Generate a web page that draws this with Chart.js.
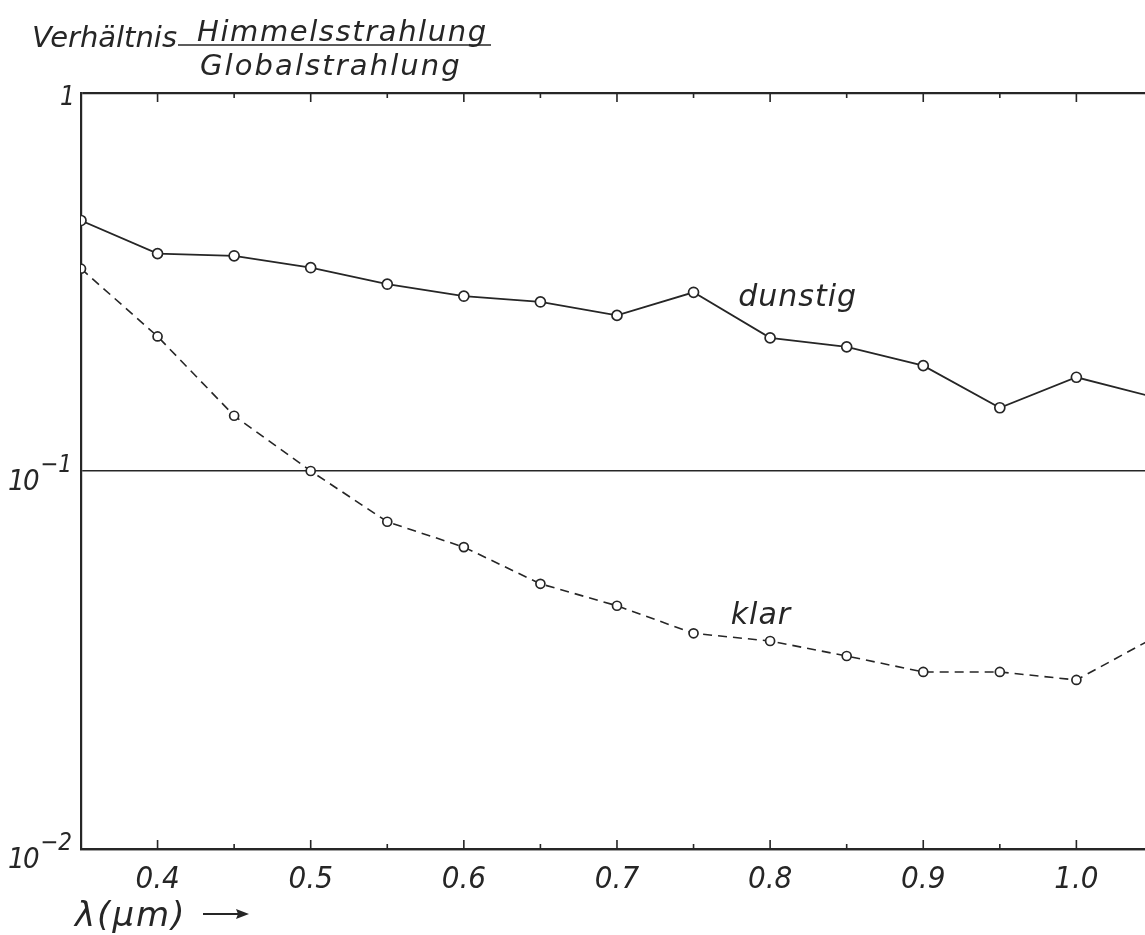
<!DOCTYPE html>
<html>
<head>
<meta charset="utf-8">
<script src="https://cdn.jsdelivr.net/npm/chart.js@4/dist/chart.umd.min.js"></script>
<style>
  html, body { margin: 0; padding: 0; background: #ffffff; overflow: hidden; width: 1145px; height: 935px; }
  canvas { display: block; }
</style>
</head>
<body>
<canvas id="c" width="1152" height="935"></canvas>
<script>
// Wavelength (µm) and ratio of diffuse sky radiation to global radiation
const wavelengths = [0.35, 0.40, 0.45, 0.50, 0.55, 0.60, 0.65, 0.70, 0.75, 0.80, 0.85, 0.90, 0.95, 1.00, 1.05];
const ratioHazy  = [0.46, 0.376, 0.371, 0.345, 0.312, 0.290, 0.280, 0.258, 0.297, 0.225, 0.213, 0.190, 0.147, 0.177, 0.157];
const ratioClear = [0.343, 0.227, 0.140, 0.100, 0.0734, 0.0629, 0.0503, 0.0440, 0.0372, 0.0355, 0.0324, 0.0294, 0.0294, 0.0280, 0.0361];

// Axis ticks
const xTickValues = [0.35, 0.40, 0.45, 0.50, 0.55, 0.60, 0.65, 0.70, 0.75, 0.80, 0.85, 0.90, 0.95, 1.00, 1.05];
const xTickLabels = ['', '0.4', '', '0.5', '', '0.6', '', '0.7', '', '0.8', '', '0.9', '', '1.0', ''];
const yTickValues = [0.01, 0.1, 1];
const yTickLabels = [['10', '\u22122'], ['10', '\u22121'], ['1', '']];

const seriesNames = ['dunstig', 'klar'];

const INK = '#262626';
const FONT = "'DejaVu Sans', 'Liberation Sans', sans-serif";
const NUM_FONT = "'DejaVu Sans Condensed', 'Liberation Sans Narrow', 'DejaVu Sans', sans-serif";
const font = (size, fam = FONT) => `italic 300 ${size}px ${fam}`;

const toPoints = (ys) => wavelengths.map((x, i) => ({ x, y: ys[i] }));

function spaced(ctx, text, x, y, spacing) {
  ctx.letterSpacing = spacing + 'px';
  ctx.fillText(text, x, y);
  ctx.letterSpacing = '0px';
}

// Frame ticks, y labels, titles and curve names
const decorations = {
  id: 'decorations',
  afterDraw(chart) {
    const { ctx, chartArea: a, scales: { x, y } } = chart;
    ctx.save();
    ctx.strokeStyle = INK;
    ctx.fillStyle = INK;

    // inward tick marks along the top and bottom edges
    ctx.lineWidth = 1.6;
    xTickValues.forEach((v) => {
      const px = x.getPixelForValue(v);
      if (px <= a.left + 1 || px >= a.right) return;
      const major = Math.abs(v * 10 - Math.round(v * 10)) < 1e-6;
      const len = major ? 9 : 5;
      ctx.beginPath();
      ctx.moveTo(px, a.bottom); ctx.lineTo(px, a.bottom - len);
      ctx.moveTo(px, a.top); ctx.lineTo(px, a.top + len);
      ctx.stroke();
    });

    // y labels with exponents
    yTickValues.forEach((v, i) => {
      const py = y.getPixelForValue(v);
      const [base, exp] = yTickLabels[i];
      ctx.textBaseline = 'alphabetic';
      ctx.textAlign = 'right';
      if (!exp) {
        ctx.font = font(26, NUM_FONT);
        ctx.fillText(base, a.left - 6, py + 12);
        return;
      }
      ctx.font = font(24, NUM_FONT);
      ctx.fillText(exp, a.left - 9, py + 1);
      const ew = ctx.measureText(exp).width;
      ctx.font = font(29, NUM_FONT);
      spaced(ctx, base, a.left - 9 - ew - 2, py + 19, -1.5);
    });

    // y axis title as a fraction
    ctx.textAlign = 'left';
    ctx.textBaseline = 'alphabetic';
    ctx.font = font(29);
    ctx.fillText('Verhältnis', 32, 47);
    spaced(ctx, 'Himmelsstrahlung', 197, 41, 1.6);
    spaced(ctx, 'Globalstrahlung', 200, 75, 2.1);
    ctx.lineWidth = 1.6;
    ctx.beginPath();
    ctx.moveTo(178, 45); ctx.lineTo(491, 45);
    ctx.stroke();

    // x axis title with arrow
    ctx.font = font(34);
    spaced(ctx, '\u03bb(\u00b5m)', 75, 926, 2);
    ctx.lineWidth = 1.8;
    ctx.beginPath();
    ctx.moveTo(203, 914); ctx.lineTo(240, 914);
    ctx.stroke();
    ctx.beginPath();
    ctx.moveTo(249, 914); ctx.lineTo(236, 909); ctx.lineTo(238, 914); ctx.lineTo(236, 919);
    ctx.closePath();
    ctx.fill();

    // curve names
    ctx.font = font(30);
    ctx.textAlign = 'center';
    ctx.textBaseline = 'middle';
    spaced(ctx, seriesNames[0], x.getPixelForValue(0.818), y.getPixelForValue(0.286), 1);
    spaced(ctx, seriesNames[1], x.getPixelForValue(0.794), y.getPixelForValue(0.0412), 1);
    ctx.restore();
  }
};

new Chart(document.getElementById('c'), {
  type: 'scatter',
  data: {
    datasets: [
      {
        label: seriesNames[0],
        data: toPoints(ratioHazy),
        showLine: true,
        borderColor: INK,
        borderWidth: 1.8,
        pointRadius: 5,
        pointBorderWidth: 1.7,
        pointBorderColor: INK,
        pointBackgroundColor: '#ffffff'
      },
      {
        label: seriesNames[1],
        data: toPoints(ratioClear),
        showLine: true,
        borderColor: INK,
        borderWidth: 1.6,
        borderDash: [9, 6],
        pointRadius: 4.5,
        pointBorderWidth: 1.7,
        pointBorderColor: INK,
        pointBackgroundColor: '#ffffff'
      }
    ]
  },
  options: {
    responsive: false,
    animation: false,
    layout: { padding: { top: 93, right: 0, left: 0, bottom: 0 } },
    plugins: { legend: { display: false }, tooltip: { enabled: false } },
    scales: {
      x: {
        type: 'linear',
        min: 0.35,
        max: 1.045,
        afterBuildTicks: (s) => { s.ticks = xTickValues.map((value) => ({ value })); },
        afterFit: (s) => { s.height = 86; s.paddingLeft = 0; s.paddingRight = 0; },
        grid: { display: false, drawTicks: false },
        border: { display: true, color: INK, width: 2.2 },
        ticks: {
          autoSkip: false,
          maxRotation: 0,
          padding: 12,
          color: INK,
          font: { family: NUM_FONT, size: 31, style: 'italic', weight: '300' },
          callback: (v) => {
            const i = xTickValues.findIndex((t) => Math.abs(t - v) < 1e-6);
            return i >= 0 ? xTickLabels[i] : '';
          }
        }
      },
      y: {
        type: 'logarithmic',
        min: 0.01,
        max: 1,
        afterBuildTicks: (s) => { s.ticks = yTickValues.map((value) => ({ value })); },
        afterFit: (s) => { s.width = 81; },
        ticks: { display: false },
        grid: {
          drawTicks: false,
          color: INK,
          lineWidth: (c) => (c.tick && Math.abs(c.tick.value - 0.1) < 1e-9 ? 1.6 : 2.2)
        },
        border: { display: true, color: INK, width: 2.2 }
      }
    }
  },
  plugins: [decorations]
});
</script>
</body>
</html>
